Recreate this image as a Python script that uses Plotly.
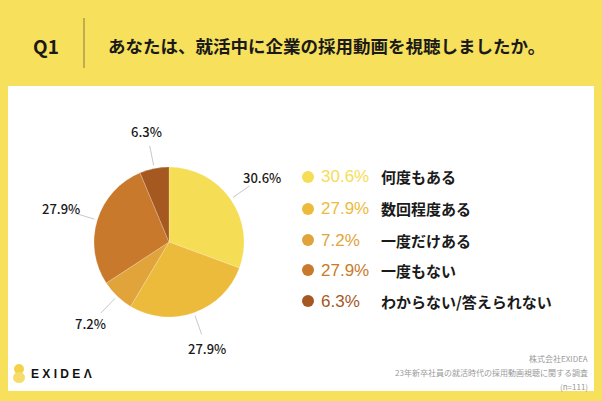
import math
import plotly.graph_objects as go

# data
labels = ["何度もある", "数回程度ある", "一度だけある", "一度もない", "わからない/答えられない"]
values = [30.6, 27.9, 7.2, 27.9, 6.3]
colors = ["#F5DD55", "#EDBB3C", "#E0A43A", "#C9792B", "#A5581F"]
title_q = "Q1"
title_text = "あなたは、就活中に企業の採用動画を視聴しましたか。"
source_lines = ["株式会社EXIDEA", "23年新卒社員の就活時代の採用動画視聴に関する調査", "(n=111)"]

W, H = 602, 401
JP = "Noto Sans CJK JP"

# pie placement in pixels
cx, cy, R = 169, 242, 75


def px(x):
    return x / W


def py(y):
    return 1 - y / H


fig = go.Figure()

fig.add_trace(go.Pie(
    labels=labels,
    values=values,
    sort=False,
    direction="clockwise",
    rotation=0,
    marker=dict(colors=colors, line=dict(color="rgba(255,255,255,0.4)", width=0.5)),
    textinfo="none",
    hoverinfo="label+value",
    showlegend=False,
    domain=dict(x=[px(cx - R), px(cx + R)], y=[py(cy + R), py(cy - R)]),
))

shapes = []
annotations = []

# white panel + header divider
shapes.append(dict(type="rect", xref="paper", yref="paper", x0=px(8), x1=px(594), y0=py(391), y1=py(86),
                   fillcolor="white", line=dict(width=0), layer="below"))
shapes.append(dict(type="line", xref="paper", yref="paper", x0=px(84), x1=px(84), y0=py(18), y1=py(68),
                   line=dict(color="#8a7a3a", width=1)))

annotations.append(dict(x=px(31), y=py(45), xref="paper", yref="paper", xanchor="left", yanchor="middle",
                        text="<b>%s</b>" % title_q, showarrow=False,
                        font=dict(family=JP, size=19, color="#1a1a1a")))
annotations.append(dict(x=px(106), y=py(45), xref="paper", yref="paper", xanchor="left", yanchor="middle",
                        text="<b>%s</b>" % title_text, showarrow=False,
                        font=dict(family=JP, size=17.5, color="#1a1a1a")))

# outside labels with leader lines, placed by slice mid-angle
total = sum(values)
cum = 0
for v in values:
    mid = (cum + v / 2) / total
    cum += v
    th = 2 * math.pi * mid
    sx, sy = math.sin(th), -math.cos(th)
    shapes.append(dict(type="line", xref="paper", yref="paper",
                       x0=px(cx + 78 * sx), y0=py(cy + 78 * sy),
                       x1=px(cx + 98 * sx), y1=py(cy + 98 * sy),
                       line=dict(color="#c8c8c8", width=1)))
    annotations.append(dict(x=px(cx + 113 * sx), y=py(cy + 113 * sy), xref="paper", yref="paper",
                            xanchor="center", yanchor="middle", text="%.1f%%" % v, showarrow=False,
                            font=dict(family=JP, size=13, color="#1a1a1a", weight=500)))

# custom legend
leg_y = [177, 209, 240, 270, 301]
for i, (lab, v, c) in enumerate(zip(labels, values, colors)):
    y = leg_y[i]
    shapes.append(dict(type="circle", xref="paper", yref="paper",
                       x0=px(302), x1=px(314), y0=py(y + 6), y1=py(y - 6),
                       fillcolor=c, line=dict(width=0)))
    annotations.append(dict(x=px(319), y=py(y), xref="paper", yref="paper", xanchor="left", yanchor="middle",
                            text="%.1f%%" % v, showarrow=False,
                            font=dict(family="Liberation Sans", size=17, color=c)))
    annotations.append(dict(x=px(379), y=py(y), xref="paper", yref="paper", xanchor="left", yanchor="middle",
                            text="<b>%s</b>" % lab, showarrow=False,
                            font=dict(family=JP, size=15, color="#1a1a1a")))

# footer source
for i, s in enumerate(source_lines):
    annotations.append(dict(x=px(590), y=py(358 + 14 * i), xref="paper", yref="paper",
                            xanchor="right", yanchor="middle", text=s, showarrow=False,
                            font=dict(family=JP, size=8, color="#9a9a9a")))

# logo
shapes.append(dict(type="circle", xref="paper", yref="paper", x0=px(14), x1=px(24), y0=py(374), y1=py(364),
                   fillcolor="#F3D24A", line=dict(width=0)))
shapes.append(dict(type="circle", xref="paper", yref="paper", x0=px(13), x1=px(25), y0=py(383), y1=py(372),
                   fillcolor="#F6DD6A", line=dict(width=0)))
annotations.append(dict(x=px(29), y=py(374), xref="paper", yref="paper", xanchor="left", yanchor="middle",
                        text="<b>E X I D E Λ</b>", showarrow=False,
                        font=dict(family="Liberation Sans", size=12, color="#111111")))

fig.update_layout(
    width=W, height=H,
    margin=dict(l=0, r=0, t=0, b=0),
    paper_bgcolor="#F6E05C",
    plot_bgcolor="#F6E05C",
    shapes=shapes,
    annotations=annotations,
)

# browser default body margin would shift the figure by 8px
fig.write_html("out.html", config={"displayModeBar": False},
               post_script="document.body.style.margin='0';document.body.style.overflow='hidden';")
